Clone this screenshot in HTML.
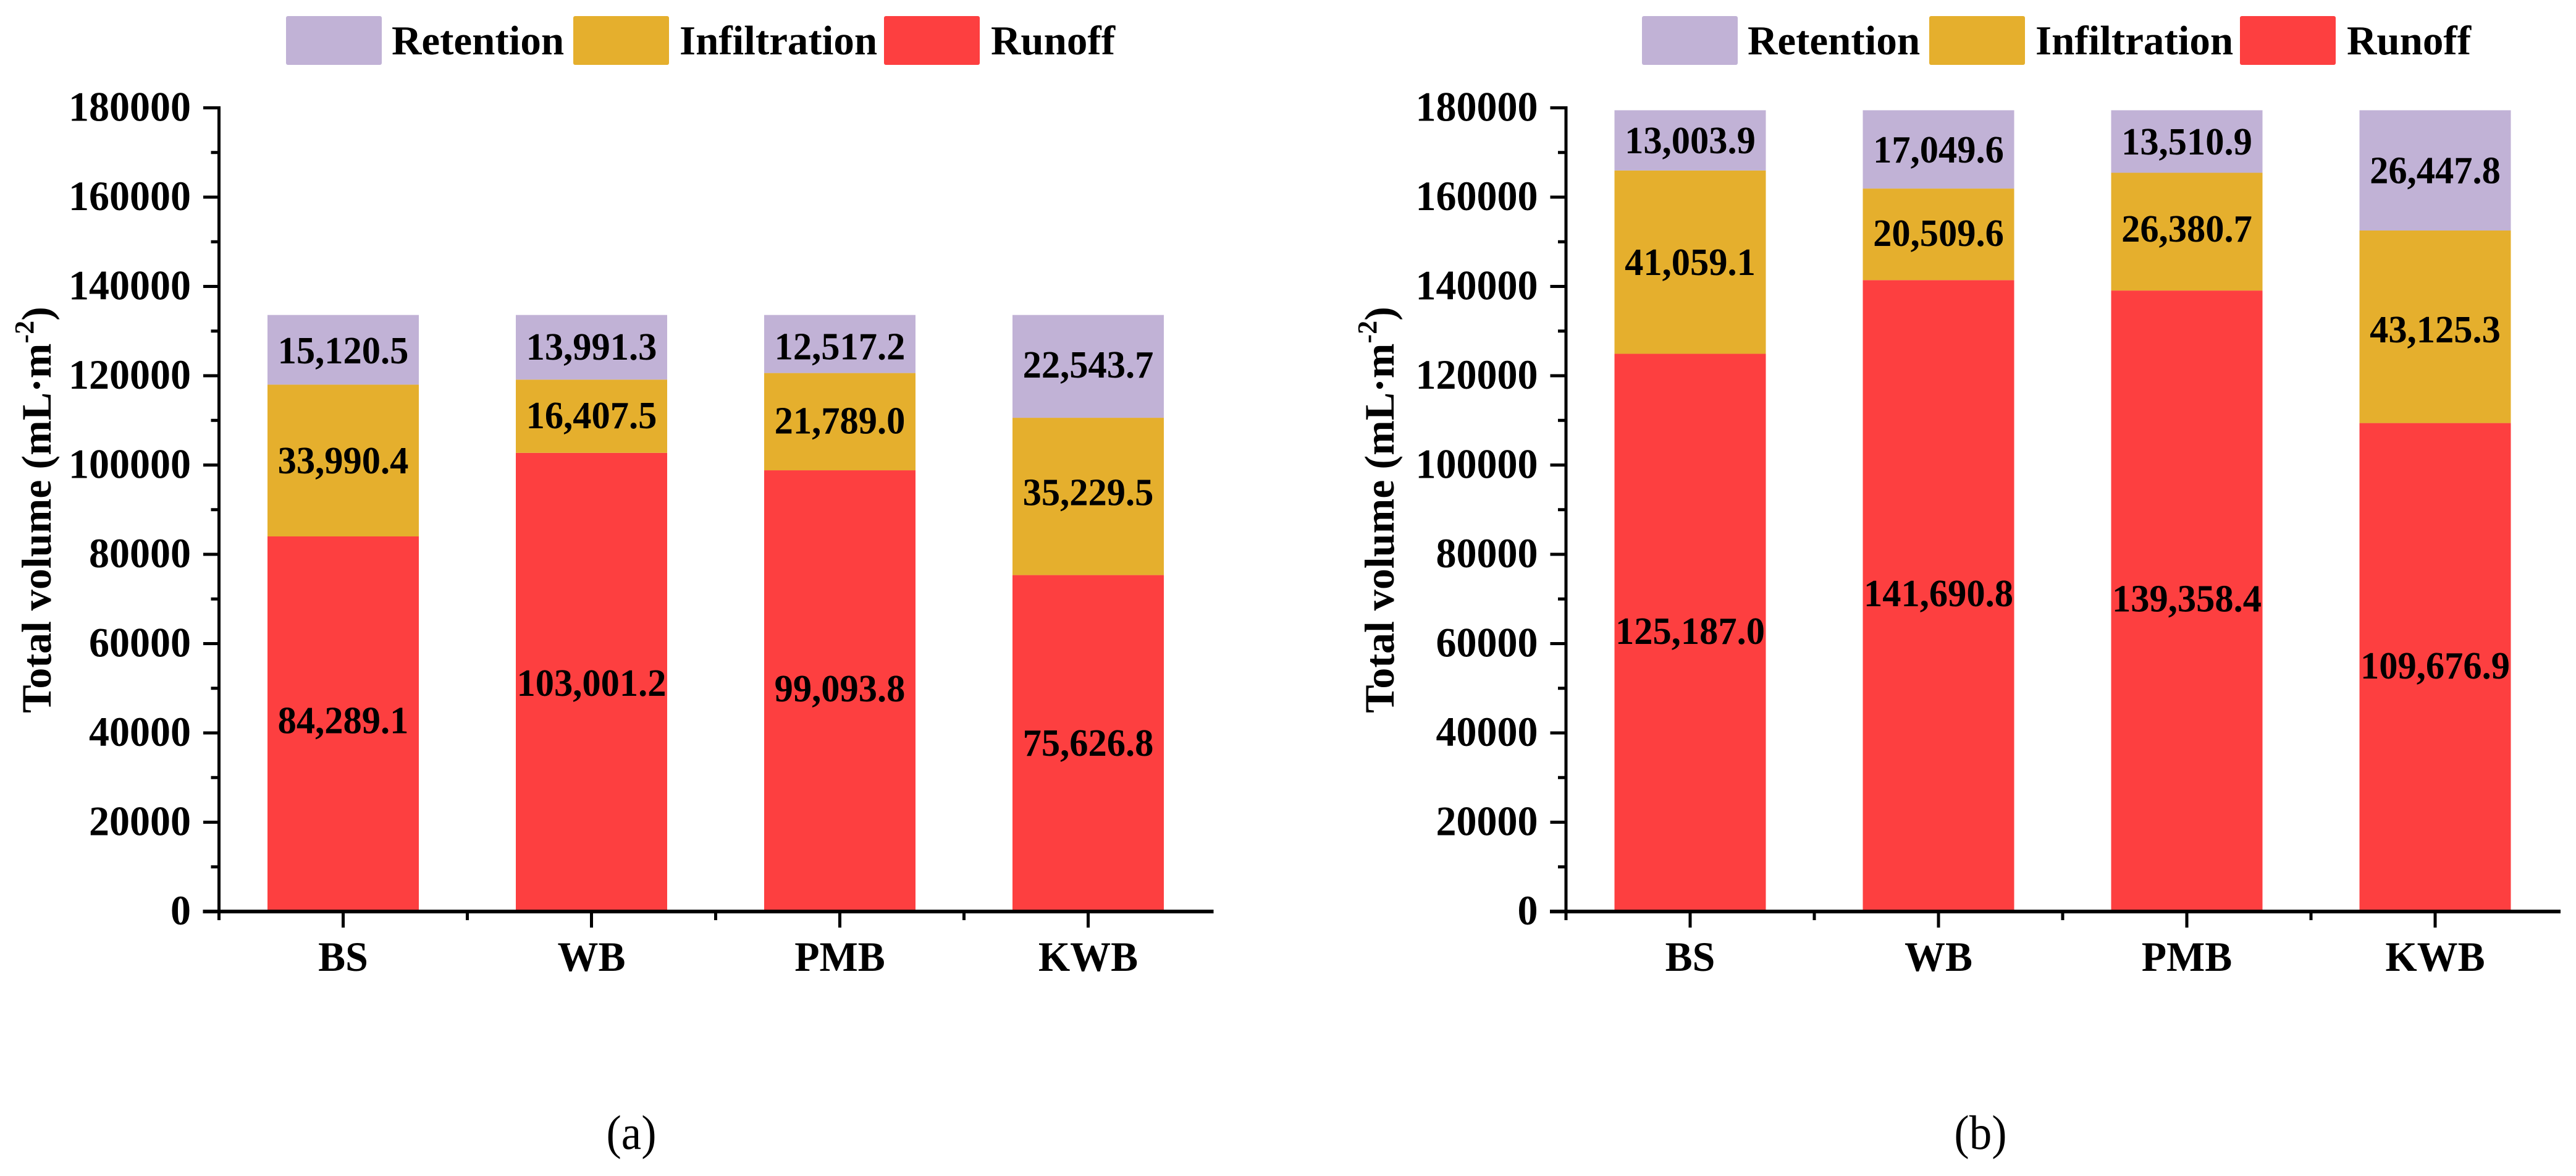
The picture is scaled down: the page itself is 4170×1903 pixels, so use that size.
<!DOCTYPE html>
<html lang="en">
<head>
<meta charset="utf-8">
<title>Total volume by treatment</title>
<style>
html,body{margin:0;padding:0;background:#fff;}
body{width:4170px;height:1903px;overflow:hidden;}
svg{display:block;}
text{font-family:"Liberation Serif","Times New Roman",serif;fill:#000;}
.b{font-weight:bold;}
</style>
</head>
<body>
<svg id="fig" xmlns="http://www.w3.org/2000/svg" width="4170" height="1903" viewBox="0 0 4170 1903"></svg>
<script>
const categories = ['BS', 'WB', 'PMB', 'KWB'];
const runoffA = [84289.1, 103001.2, 99093.8, 75626.8];
const infiltrationA = [33990.4, 16407.5, 21789.0, 35229.5];
const retentionA = [15120.5, 13991.3, 12517.2, 22543.7];
const runoffB = [125187.0, 141690.8, 139358.4, 109676.9];
const infiltrationB = [41059.1, 20509.6, 26380.7, 43125.3];
const retentionB = [13003.9, 17049.6, 13510.9, 26447.8];
const yTickValues = [0, 20000, 40000, 60000, 80000, 100000, 120000, 140000, 160000, 180000];
const yMinorValues = [10000, 30000, 50000, 70000, 90000, 110000, 130000, 150000, 170000];
const legendLabels = ['Retention', 'Infiltration', 'Runoff'];
const yMax = 180000;

/* Layout only: hand placement of printed labels relative to their segment centre. */
const labelNudge = {
  a: { runoff: [-7, 0, -5, -2], infiltration: [0, -1.5, -2, -7], retention: [1, -1, 4, -3] },
  b: { runoff: [-4, -5, -5, -4], infiltration: [0, -2, -5, 4], retention: [0, 0, 0, 0] }
};

const RED = '#FD3F40', GOLD = '#E5AF2D', PURPLE = '#C1B2D6';
const svg = document.getElementById('fig');
const NS = 'http://www.w3.org/2000/svg';

function mk(tag, parent) {
  const e = document.createElementNS(NS, tag);
  parent.appendChild(e);
  return e;
}
function rectAt(e, x, y, w, h, fill) {
  e.setAttribute('x', x); e.setAttribute('y', y);
  e.setAttribute('width', w); e.setAttribute('height', h);
  e.setAttribute('fill', fill);
}
function textAt(e, x, y, size, anchor, str, bold, stretch) {
  e.setAttribute('x', x); e.setAttribute('y', y);
  e.setAttribute('font-size', size);
  e.setAttribute('text-anchor', anchor);
  if (bold) e.setAttribute('class', 'b');
  if (stretch && stretch !== 1) {
    e.setAttribute('transform', 'matrix(1 0 0 ' + stretch + ' 0 ' + (y * (1 - stretch)) + ')');
  }
  e.textContent = str;
}
function fmt(v) {
  const s = v.toFixed(1).split('.');
  return s[0].replace(/\B(?=(\d{3})+$)/g, ',') + '.' + s[1];
}

function drawPanel(id, axisX, axisEnd, titleX, legendDx, capX, capText, runoff, infiltration, retention) {
  const y0 = 1475, yTop = 174.5, barBase = 1477, topOverhang = 3.5;
  const k = (y0 - yTop) / yMax;
  const yScale = v => y0 - v * k;
  const barY = v => barBase - v * k;
  const band = (axisEnd - axisX) / categories.length;
  const xScale = i => axisX + band * (i + 0.5);
  const barW = 245;
  const g = mk('g', svg);
  
  

  const legendSeries = [
    { x: 463, tx: 634, fill: PURPLE },
    { x: 928, tx: 1100, fill: GOLD },
    { x: 1431, tx: 1604, fill: RED }
  ];
  legendSeries.forEach((l, i) => {
    const sw = mk('rect', g);
    
    
    rectAt(sw, l.x + legendDx, 26, 155, 79, l.fill);
    sw.setAttribute('rx', 3);
    const t = mk('text', g);
    
    
    textAt(t, l.tx + legendDx, 88, 67, 'start', legendLabels[i], true, 1);
  });

  categories.forEach((c, i) => {
    let base = 0;
    const segs = [
      { key: 'runoff', v: runoff[i], fill: RED },
      { key: 'infiltration', v: infiltration[i], fill: GOLD },
      { key: 'retention', v: retention[i], fill: PURPLE }
    ];
    const spans = segs.map(s => {
      let yT = barY(base + s.v);
      const yB = barY(base);
      if (s.key === 'retention') yT -= topOverhang;
      base += s.v;
      return { yT: yT, yB: yB };
    });
    segs.forEach((s, j) => {
      const r = mk('rect', g);
      
      
      rectAt(r, xScale(i) - barW / 2, spans[j].yT, barW, spans[j].yB - spans[j].yT, s.fill);
    });
    segs.forEach((s, j) => {
      const t = mk('text', g);
      
      
      const cy = (spans[j].yT + spans[j].yB) / 2 + 21 + labelNudge[id][s.key][i];
      textAt(t, xScale(i), cy, 60.5, 'middle', fmt(s.v), true, 1.04);
    });
  });

  const yAxis = mk('rect', g);
  
  
  rectAt(yAxis, axisX - 2.5, yTop - 2.5, 5, y0 - yTop + 5, '#000');

  const xAxis = mk('rect', g);
  
  
  rectAt(xAxis, axisX - 26, y0 - 3, axisEnd - axisX + 28, 6, '#000');

  yTickValues.forEach(v => {
    const tk = mk('rect', g);
    
    
    rectAt(tk, axisX - 25.5, yScale(v) - 2.5, 26, 5, '#000');
    const t = mk('text', g);
    
    
    textAt(t, axisX - 45.5, yScale(v) + 21, 66, 'end', String(v), true, 1.03);
  });
  yMinorValues.forEach(v => {
    const tk = mk('rect', g);
    
    
    rectAt(tk, axisX - 13, yScale(v) - 2.5, 13, 5, '#000');
  });

  categories.forEach((c, i) => {
    const tk = mk('rect', g);
    
    
    rectAt(tk, xScale(i) - 2.5, y0 + 3, 5, 23, '#000');
    const t = mk('text', g);
    
    
    textAt(t, xScale(i), 1571, 66, 'middle', c, true, 1.03);
  });
  for (let i = 0; i <= categories.length - 1; i++) {
    const tk = mk('rect', g);
    
    
    rectAt(tk, axisX + band * i - 2.5, y0 + 3, 5, 11, '#000');
  }

  const title = mk('text', g);
  
  
  title.setAttribute('class', 'b');
  title.setAttribute('font-size', 68);
  title.setAttribute('text-anchor', 'middle');
  title.setAttribute('transform', 'translate(' + titleX + ',825) rotate(-90)');
  const t1 = mk('tspan', title);
  t1.textContent = 'Total volume (mL·m';
  const t2 = mk('tspan', title);
  t2.setAttribute('font-size', 44);
  t2.setAttribute('dy', -28);
  t2.textContent = '-2';
  const t3 = mk('tspan', title);
  t3.setAttribute('dy', 28);
  t3.textContent = ')';

  const cap = mk('text', g);
  
  
  textAt(cap, capX, 1859, 73, 'middle', capText, false, 1.08);
}

drawPanel('a', 354.5, 1962.5, 82, 0, 1022, '(a)', runoffA, infiltrationA, retentionA);
drawPanel('b', 2535, 4143, 2256, 2195, 3206, '(b)', runoffB, infiltrationB, retentionB);
</script>
</body>
</html>
